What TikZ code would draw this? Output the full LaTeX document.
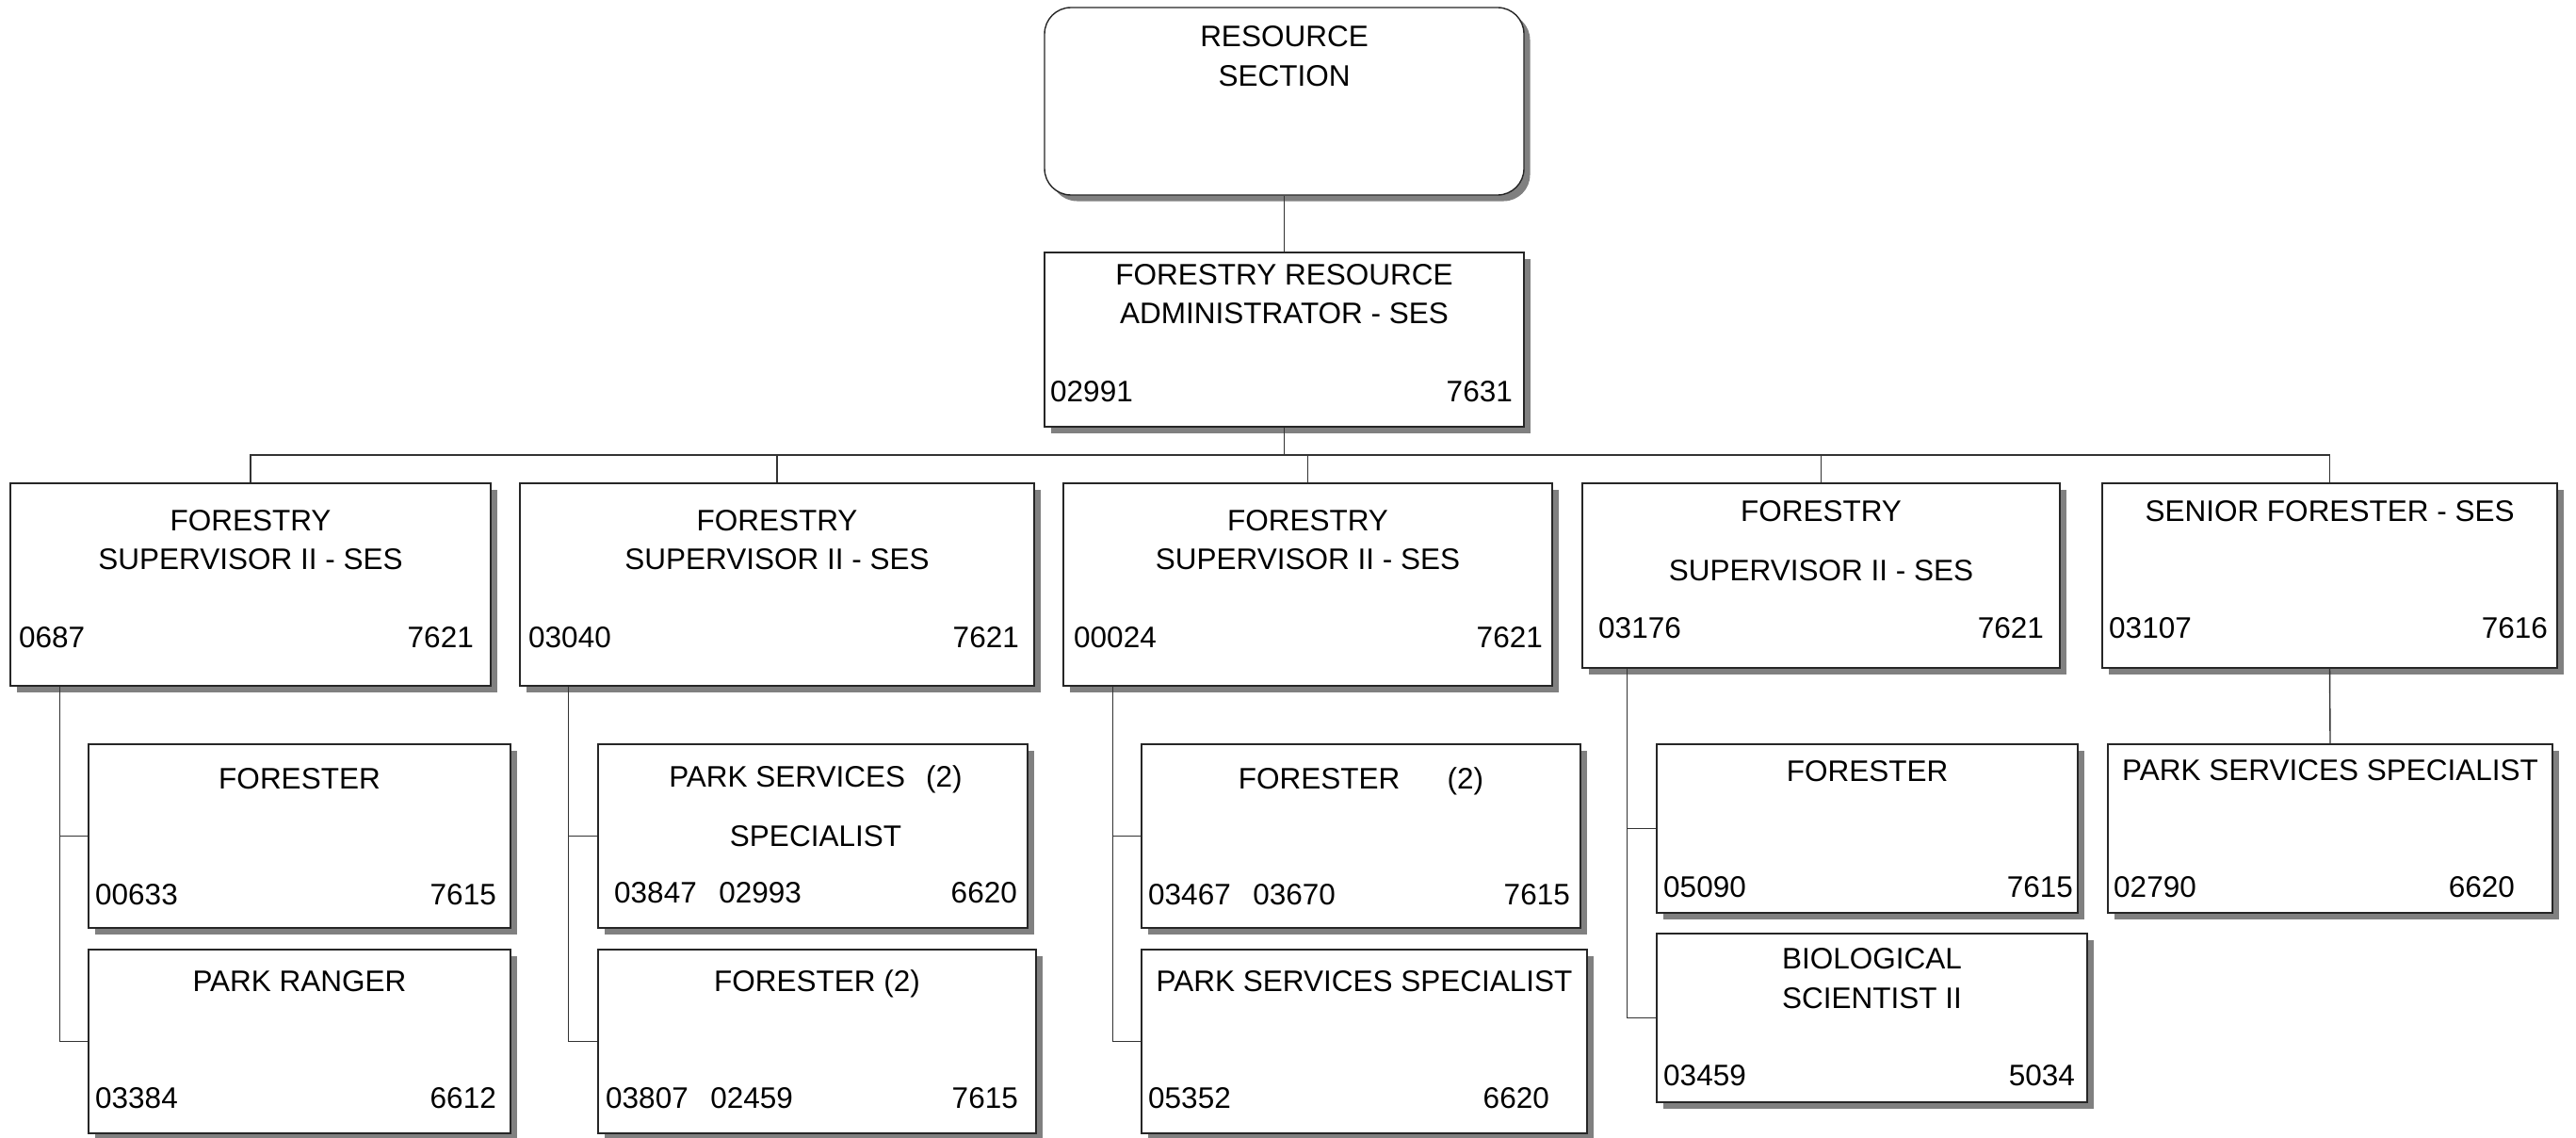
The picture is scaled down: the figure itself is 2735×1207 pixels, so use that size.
\documentclass[tikz,border=0pt]{standalone}
\usepackage{fontspec}
\setmainfont{Liberation Sans}
\usetikzlibrary{shadows,calc}

\begin{document}
\begin{tikzpicture}[x=1pt, y=-1pt,
    post/.style={draw=black!85, line width=1.4pt, fill=white, inner sep=0pt,
        drop shadow={shadow xshift=6.5pt, shadow yshift=-6.5pt, fill=black!50, opacity=1}},
    txt/.style={inner sep=0pt, font=\fontsize{31.5}{41}\selectfont},
    link/.style={draw=black!80, line width=1.4pt}]
    \path[fill=white] (0,0) rectangle (2735,1207);
    \useasboundingbox (0,0) rectangle (2735,1207);

    %Boxes
    \node[post, rounded corners=28pt, minimum width=509pt, minimum height=199pt] at (1363.5, 107.5) (res) {};
    \node[post, minimum width=509pt, minimum height=185pt] at (1363.5, 360.5) (adm) {};

    \node[post, minimum width=510pt, minimum height=215pt] at (266, 620.5) (sup1) {};
    \node[post, minimum width=546pt, minimum height=215pt] at (825, 620.5) (sup2) {};
    \node[post, minimum width=519pt, minimum height=215pt] at (1388.5, 620.5) (sup3) {};
    \node[post, minimum width=507pt, minimum height=196pt] at (1933.5, 611) (sup4) {};
    \node[post, minimum width=483pt, minimum height=196pt] at (2473.5, 611) (snr) {};

    \node[post, minimum width=448pt, minimum height=195pt] at (318, 887.5) (c1a) {};
    \node[post, minimum width=448pt, minimum height=195pt] at (318, 1105.5) (c1b) {};
    \node[post, minimum width=456pt, minimum height=195pt] at (863, 887.5) (c2a) {};
    \node[post, minimum width=465pt, minimum height=195pt] at (867.5, 1105.5) (c2b) {};
    \node[post, minimum width=466pt, minimum height=195pt] at (1445, 887.5) (c3a) {};
    \node[post, minimum width=473pt, minimum height=195pt] at (1448.5, 1105.5) (c3b) {};
    \node[post, minimum width=447pt, minimum height=179pt] at (1982.5, 879.5) (c4a) {};
    \node[post, minimum width=457pt, minimum height=179pt] at (1987.5, 1080.5) (c4b) {};
    \node[post, minimum width=472pt, minimum height=179pt] at (2474, 879.5) (c5a) {};

    %Texts
    \node[txt, anchor=base] at (1363.5, 50) (res1) {RESOURCE};
    \node[txt, anchor=base] at (1363.5, 92) (res2) {SECTION};

    \node[txt, anchor=base] at (1363.5, 302) (adm1) {FORESTRY RESOURCE};
    \node[txt, anchor=base] at (1363.5, 343) (adm2) {ADMINISTRATOR - SES};
    \node[txt, anchor=base west] at (1115, 426) (admL) {02991};
    \node[txt, anchor=base east] at (1606, 426) (admR) {7631};

    \node[txt, anchor=base] at (266, 563) (sup1a) {FORESTRY};
    \node[txt, anchor=base] at (266, 604) (sup1b) {SUPERVISOR II - SES};
    \node[txt, anchor=base west] at (20, 687) (sup1L) {0687};
    \node[txt, anchor=base east] at (503, 687) (sup1R) {7621};

    \node[txt, anchor=base] at (825, 563) (sup2a) {FORESTRY};
    \node[txt, anchor=base] at (825, 604) (sup2b) {SUPERVISOR II - SES};
    \node[txt, anchor=base west] at (561, 687) (sup2L) {03040};
    \node[txt, anchor=base east] at (1082, 687) (sup2R) {7621};

    \node[txt, anchor=base] at (1388.5, 563) (sup3a) {FORESTRY};
    \node[txt, anchor=base] at (1388.5, 604) (sup3b) {SUPERVISOR II - SES};
    \node[txt, anchor=base west] at (1140, 687) (sup3L) {00024};
    \node[txt, anchor=base east] at (1638, 687) (sup3R) {7621};

    \node[txt, anchor=base] at (1933.5, 553) (sup4a) {FORESTRY};
    \node[txt, anchor=base] at (1933.5, 616) (sup4b) {SUPERVISOR II - SES};
    \node[txt, anchor=base west] at (1697, 677) (sup4L) {03176};
    \node[txt, anchor=base east] at (2170, 677) (sup4R) {7621};

    \node[txt, anchor=base] at (2473.5, 553) (snr1) {SENIOR FORESTER - SES};
    \node[txt, anchor=base west] at (2239, 677) (snrL) {03107};
    \node[txt, anchor=base east] at (2705, 677) (snrR) {7616};

    \node[txt, anchor=base] at (318, 837) (c1a1) {FORESTER};
    \node[txt, anchor=base west] at (101, 960) (c1aL) {00633};
    \node[txt, anchor=base east] at (527, 960) (c1aR) {7615};

    \node[txt, anchor=base] at (318, 1052) (c1b1) {PARK RANGER};
    \node[txt, anchor=base west] at (101, 1176) (c1bL) {03384};
    \node[txt, anchor=base east] at (527, 1176) (c1bR) {6612};

    \node[txt, anchor=base] at (866, 835) (c2a1) {PARK SERVICES\hspace{0.7em}(2)};
    \node[txt, anchor=base] at (866, 898) (c2a2) {SPECIALIST};
    \node[txt, anchor=base west] at (652, 958) (c2aL) {03847\hspace{0.75em}02993};
    \node[txt, anchor=base east] at (1080, 958) (c2aR) {6620};

    \node[txt, anchor=base] at (867.5, 1052) (c2b1) {FORESTER (2)};
    \node[txt, anchor=base west] at (643, 1176) (c2bL) {03807\hspace{0.75em}02459};
    \node[txt, anchor=base east] at (1081, 1176) (c2bR) {7615};

    \node[txt, anchor=base] at (1445, 837) (c3a1) {FORESTER\hspace{1.6em}(2)};
    \node[txt, anchor=base west] at (1219, 960) (c3aL) {03467\hspace{0.75em}03670};
    \node[txt, anchor=base east] at (1667, 960) (c3aR) {7615};

    \node[txt, anchor=base] at (1448.5, 1052) (c3b1) {PARK SERVICES SPECIALIST};
    \node[txt, anchor=base west] at (1219, 1176) (c3bL) {05352};
    \node[txt, anchor=base east] at (1645, 1176) (c3bR) {6620};

    \node[txt, anchor=base] at (1982.5, 829) (c4a1) {FORESTER};
    \node[txt, anchor=base west] at (1766, 952) (c4aL) {05090};
    \node[txt, anchor=base east] at (2201, 952) (c4aR) {7615};

    \node[txt, anchor=base] at (1987.5, 1028) (c4b1) {BIOLOGICAL};
    \node[txt, anchor=base] at (1987.5, 1070) (c4b2) {SCIENTIST II};
    \node[txt, anchor=base west] at (1766, 1152) (c4bL) {03459};
    \node[txt, anchor=base east] at (2203, 1152) (c4bR) {5034};

    \node[txt, anchor=base] at (2474, 828) (c5a1) {PARK SERVICES SPECIALIST};
    \node[txt, anchor=base west] at (2244, 952) (c5aL) {02790};
    \node[txt, anchor=base east] at (2670, 952) (c5aR) {6620};

    %Lines
    \coordinate (bus) at (1363.5, 483);
    \draw[link] (res.south) -- (adm.north);
    \draw[link] (adm.south) -- (bus);
    \draw[link] (bus) -| (sup1.north);
    \draw[link] (bus) -| (sup2.north);
    \draw[link] (bus) -| (sup3.north);
    \draw[link] (bus) -| (sup4.north);
    \draw[link] (bus) -| (snr.north);

    \coordinate (j1) at ($(sup1.south west)+(53,0)$);
    \coordinate (j2) at ($(sup2.south west)+(52,0)$);
    \coordinate (j3) at ($(sup3.south west)+(53,0)$);
    \coordinate (j4) at ($(sup4.south west)+(48,0)$);
    \draw[link] (j1) |- (c1a.west);
    \draw[link] (j1) |- (c1b.west);
    \draw[link] (j2) |- (c2a.west);
    \draw[link] (j2) |- (c2b.west);
    \draw[link] (j3) |- (c3a.west);
    \draw[link] (j3) |- (c3b.west);
    \draw[link] (j4) |- (c4a.west);
    \draw[link] (j4) |- (c4b.west);
    \draw[link] (snr.south) -- (c5a.north);
\end{tikzpicture}
\end{document}
